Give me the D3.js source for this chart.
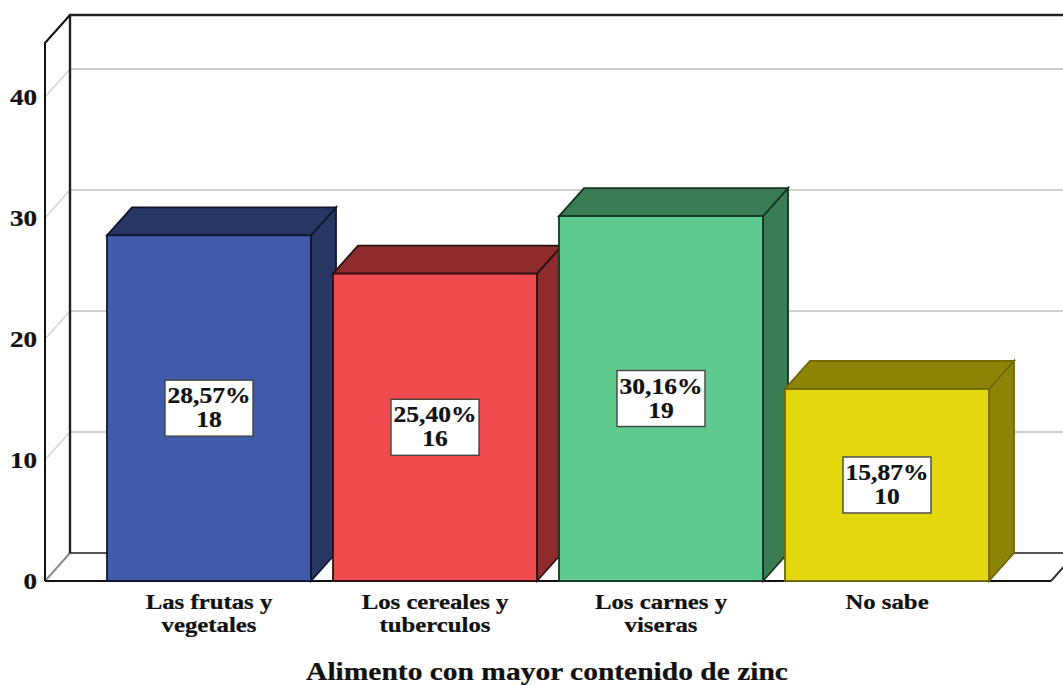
<!DOCTYPE html>
<html>
<head>
<meta charset="utf-8">
<script src="https://cdnjs.cloudflare.com/ajax/libs/d3/7.8.5/d3.min.js"></script>
<style>
  html, body { margin: 0; padding: 0; background: #fff; }
  svg { display: block; }
  text { font-family: "Liberation Serif", serif; font-weight: bold; fill: #111; stroke: #111; stroke-width: 0.25px; }
</style>
</head>
<body>
<svg id="chart" width="1063" height="685"></svg>
<script>
// Food groups named as richest in zinc: share of answers and counts
const categories = [["Las frutas y", "vegetales"], ["Los cereales y", "tuberculos"], ["Los carnes y", "viseras"], ["No sabe"]];
const percents = [28.57, 25.40, 30.16, 15.87];
const counts = [18, 16, 19, 10];
const percentLabels = ["28,57%", "25,40%", "30,16%", "15,87%"];
const yTicks = [0, 10, 20, 30, 40];
const frontColors = ["#3f5ba9", "#ef4b4e", "#5fca8d", "#e3d70e"];
const darkColors = ["#283663", "#8f2c2e", "#3a7d55", "#8c8407"];
const edgeColors = ["#10162e", "#2a1012", "#173324", "#6e6806"];
const axisTitle = "Alimento con mayor contenido de zinc";

const width = 1063, depthX = 25, depthY = 28;
const wallX = 45, floorRight = 1051, floorY = 581, topY = 43;
// The serif face is drawn wider than its natural proportions
const stretch = 1.18;

const svg = d3.select("#chart");
const y = d3.scaleLinear().domain([0, 40]).range([floorY, 97]);
const x = d3.scaleBand().domain(d3.range(categories.length)).range([96, 1000])
  .paddingInner(22 / 226).paddingOuter(11 / 226);

// Adds a horizontally stretched, centred text line at (cx, baseline)
function wideText(parent, cx, baseline, size, str, factor = stretch) {
  return parent.append("text")
    .attr("transform", `translate(${cx},${baseline}) scale(${factor},1)`)
    .attr("text-anchor", "middle")
    .attr("font-size", size)
    .text(str);
}

// Gridlines run along the back wall and fold down the side wall
const grid = svg.append("g");
yTicks.filter(d => d > 0).forEach(d => {
  grid.append("line").attr("x1", wallX).attr("y1", y(d)).attr("x2", wallX + depthX).attr("y2", y(d) - depthY)
    .attr("stroke", "#d4d4d4").attr("stroke-width", 1.5);
  grid.append("line").attr("x1", wallX + depthX).attr("y1", y(d) - depthY).attr("x2", width).attr("y2", y(d) - depthY)
    .attr("stroke", "#cfcfcf").attr("stroke-width", 2);
});

// Box frame: side wall, back wall and floor
const frame = svg.append("g").attr("fill", "none");
frame.append("path")
  .attr("d", `M${wallX},${floorY}L${wallX + depthX},${floorY - depthY}`)
  .attr("stroke", "#8a8a8a").attr("stroke-width", 2);
frame.append("path")
  .attr("d", `M${wallX + depthX},${floorY - depthY}H${width}`)
  .attr("stroke", "#555").attr("stroke-width", 2.2);
frame.append("path")
  .attr("d", `M${floorRight},${floorY}L${floorRight + depthX},${floorY - depthY}`)
  .attr("stroke", "#333").attr("stroke-width", 2);
frame.append("path")
  .attr("d", `M${wallX + depthX},${floorY - depthY}V${topY - depthY}H${width}`)
  .attr("stroke", "#222").attr("stroke-width", 2.4);
frame.append("path")
  .attr("d", `M${wallX},${floorY}V${topY}L${wallX + depthX},${topY - depthY}`)
  .attr("stroke", "#111").attr("stroke-width", 2);
frame.append("path")
  .attr("d", `M${wallX},${floorY}H${floorRight}`)
  .attr("stroke", "#111").attr("stroke-width", 2);

// Extruded bars: side and top faces sit behind the front face
const bars = svg.append("g").selectAll("g").data(percents).join("g");
bars.each(function (v, i) {
  const g = d3.select(this);
  const left = x(i), right = x(i) + x.bandwidth(), top = y(v);
  g.append("path")
    .attr("d", `M${right},${floorY}V${top}L${right + depthX},${top - depthY}V${floorY - depthY}Z`)
    .attr("fill", darkColors[i]).attr("stroke", edgeColors[i]).attr("stroke-width", 1.8);
  g.append("path")
    .attr("d", `M${left},${top}L${left + depthX},${top - depthY}H${right + depthX}L${right},${top}Z`)
    .attr("fill", darkColors[i]).attr("stroke", edgeColors[i]).attr("stroke-width", 1.8);
  g.append("rect")
    .attr("x", left).attr("y", top).attr("width", x.bandwidth()).attr("height", floorY - top)
    .attr("fill", frontColors[i]).attr("stroke", edgeColors[i]).attr("stroke-width", 1.8);
});

// Value boxes centred on each front face
const boxW = 88, boxH = 56;
const labels = svg.append("g").selectAll("g").data(percents).join("g")
  .attr("transform", (v, i) => `translate(${x(i) + x.bandwidth() / 2},${(y(v) + floorY) / 2})`);
labels.append("rect")
  .attr("x", -boxW / 2).attr("y", -boxH / 2).attr("width", boxW).attr("height", boxH)
  .attr("fill", "#fff").attr("stroke", "#444").attr("stroke-width", 1.4);
labels.each(function (v, i) {
  const g = d3.select(this);
  wideText(g, 0, -5, 23, percentLabels[i], 1.11);
  wideText(g, 0, 19, 23, counts[i], 1.11);
});

// Value axis on the front edge of the side wall
const yAxis = svg.append("g").attr("transform", "translate(37,0)")
  .call(d3.axisLeft(y).tickValues(yTicks).tickSize(0).tickPadding(0));
yAxis.select(".domain").remove();
yAxis.selectAll("text")
  .attr("x", 0)
  .attr("font-size", 23)
  .attr("transform", `scale(${stretch},1)`)
  .style("font-family", '"Liberation Serif", serif')
  .style("font-weight", "bold");

// Category labels, one text line per entry
const catLabels = svg.append("g");
categories.forEach((lines, i) => {
  lines.forEach((line, n) => {
    wideText(catLabels, x(i) + x.bandwidth() / 2, 609 + n * 23, 21, line);
  });
});

wideText(svg, 547, 680, 25, axisTitle);
</script>
</body>
</html>
